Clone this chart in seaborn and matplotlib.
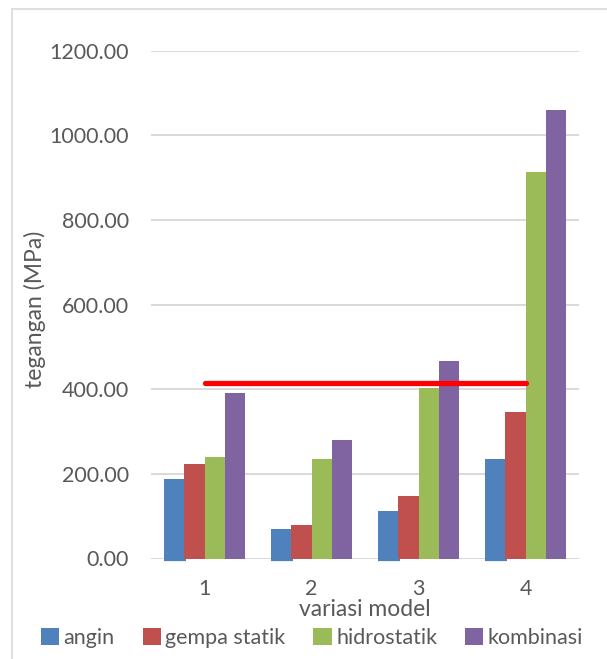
import numpy as np
import pandas as pd
import seaborn as sns
import matplotlib.pyplot as plt
from matplotlib.lines import Line2D
from matplotlib.patches import Patch

# Stress per model variant and load case (MPa)
models = ["1", "2", "3", "4"]
series = ["angin", "gempa statik", "hidrostatik", "kombinasi"]
angin = [188.0, 70.5, 111.5, 234.5]
gempa_statik = [222.5, 78.5, 148.5, 346.0]
hidrostatik = [240.0, 234.5, 402.0, 914.0]
kombinasi = [392.0, 281.0, 467.0, 1060.0]
batas = 415.0  # reference stress level drawn as a red line
y_ticks = [0, 200, 400, 600, 800, 1000, 1200]

colors = ["#4F81BD", "#C0504D", "#9BBB59", "#8064A2"]
text_color = "#595959"
grid_color = "#D9D9D9"

df = pd.DataFrame({
    "model": models * 4,
    "beban": sum([[s] * 4 for s in series], []),
    "tegangan": angin + gempa_statik + hidrostatik + kombinasi,
})

sns.set_theme(style="white")
plt.rcParams["font.family"] = ["Lato", "DejaVu Sans"]

fig = plt.figure(figsize=(6.07, 6.59), dpi=100)
W, H = 607, 659
ax_bottom, ax_top = 558.5, 50.7
ax_h = ax_bottom - ax_top
ax = fig.add_axes([151 / W, 1 - ax_bottom / H, 428 / W, ax_h / H])

sns.barplot(data=df, x="model", y="tegangan", hue="beban", order=models,
            hue_order=series, palette=colors, width=0.76, saturation=1,
            linewidth=0, legend=False, ax=ax)

ax.set_xlim(-0.5, 3.5)
ax.set_ylim(0, 1200)
ax.set_yticks(y_ticks)
ax.set_yticklabels([f"{v:.2f}" for v in y_ticks])
ax.yaxis.grid(True, color=grid_color, linewidth=1.4)
ax.set_axisbelow(True)
for s in ax.spines.values():
    s.set_visible(False)
ax.tick_params(axis="both", length=0, labelsize=15.5, colors=text_color)
ax.tick_params(axis="y", pad=16)
ax.tick_params(axis="x", pad=15)

# short blue strokes under the zero line beneath each "angin" bar
for p in ax.patches[:4]:
    ax.plot([p.get_x(), p.get_x() + p.get_width() * 1.08], [-4.5, -4.5],
            color=colors[0], linewidth=1.6, solid_capstyle="butt", clip_on=False)

# reference stress line
ax.plot([0, 3], [batas, batas], color="#FF0000", linewidth=3.8,
        solid_capstyle="round", zorder=5)

ax.set_xlabel("variasi model", fontsize=16.5, color=text_color)
ax.xaxis.set_label_coords(0.5, -(599 - ax_bottom) / ax_h)
ax.set_ylabel("tegangan (MPa)", fontsize=16.5, color=text_color)
ax.yaxis.set_label_coords((35 - 151) / 428, 0.49)
ax.yaxis.label.set_va("center")

handles = [Patch(facecolor=c, edgecolor="none", label=s) for c, s in zip(colors, series)]
fig.legend(handles=handles, loc="center", bbox_to_anchor=(0.514, 1 - 638 / H),
           ncol=4, frameon=False, fontsize=15.5, handlelength=0.85,
           handleheight=0.85, handletextpad=0.2, columnspacing=1.3,
           labelcolor=text_color)

# chart frame (left and top edges visible)
fig.add_artist(Line2D([12.5 / W, 12.5 / W], [0, 1 - 9 / H], transform=fig.transFigure,
                      color=grid_color, linewidth=1.2))
fig.add_artist(Line2D([12.5 / W, 1], [1 - 9 / H, 1 - 9 / H], transform=fig.transFigure,
                      color=grid_color, linewidth=1.2))

fig.savefig("out.png", dpi=100, facecolor="white")
